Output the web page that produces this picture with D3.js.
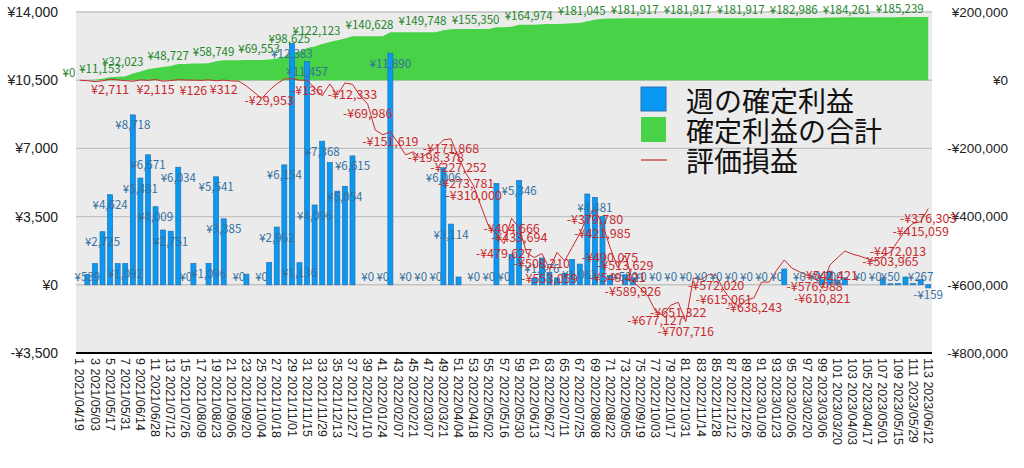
<!DOCTYPE html>
<html><head><meta charset="utf-8">
<script src="https://cdn.jsdelivr.net/npm/d3@7"></script>
<style>
html,body{margin:0;padding:0;background:#fff;}
svg{display:block;font-family:"Noto Sans CJK JP","Noto Sans",sans-serif;}
</style></head><body>
<svg id="chart" width="1024" height="468"></svg>
<script>
const dates = ["2021/04/19","2021/04/26","2021/05/03","2021/05/10","2021/05/17","2021/05/24","2021/05/31","2021/06/07","2021/06/14","2021/06/21","2021/06/28","2021/07/05","2021/07/12","2021/07/19","2021/07/26","2021/08/02","2021/08/09","2021/08/16","2021/08/23","2021/08/30","2021/09/06","2021/09/13","2021/09/20","2021/09/27","2021/10/04","2021/10/11","2021/10/18","2021/10/25","2021/11/01","2021/11/08","2021/11/15","2021/11/22","2021/11/29","2021/12/06","2021/12/13","2021/12/20","2021/12/27",
"2022/01/03","2022/01/10","2022/01/17","2022/01/24","2022/01/31","2022/02/07","2022/02/14","2022/02/21","2022/02/28","2022/03/07","2022/03/14","2022/03/21","2022/03/28","2022/04/04","2022/04/11","2022/04/18","2022/04/25","2022/05/02","2022/05/09","2022/05/16","2022/05/23","2022/05/30","2022/06/06","2022/06/13","2022/06/20","2022/06/27","2022/07/04","2022/07/11","2022/07/18","2022/07/25","2022/08/01","2022/08/08","2022/08/15","2022/08/22","2022/08/29","2022/09/05","2022/09/12","2022/09/19","2022/09/26","2022/10/03","2022/10/10","2022/10/17","2022/10/24","2022/10/31","2022/11/07","2022/11/14","2022/11/21","2022/11/28","2022/12/05","2022/12/12","2022/12/19","2022/12/26",
"2023/01/02","2023/01/09","2023/01/16","2023/01/23","2023/01/30","2023/02/06","2023/02/13","2023/02/20","2023/02/27","2023/03/06","2023/03/13","2023/03/20","2023/03/27","2023/04/03","2023/04/10","2023/04/17","2023/04/24","2023/05/01","2023/05/08","2023/05/15","2023/05/22","2023/05/29","2023/06/05","2023/06/12"];

// 週の確定利益 (weekly realised profit, left axis)
const weeklyProfit = [0,539,1087,2725,4624,1086,1092,8718,5481,6671,
4009,2812,2751,6034,0,1098,0,1096,5541,3385,
0,0,545,0,0,1143,2962,6154,12383,1136,
11457,4096,7368,6270,4806,5054,6615,0,0,0,
0,11890,0,0,0,0,0,0,6006,3114,
400,0,0,0,0,5202,0,1560,5346,0,
350,1376,640,352,590,1306,1062,4660,4481,3496,
476,0,520,352,0,0,0,0,0,0,
0,0,0,0,0,0,0,0,0,0,
0,0,0,811,0,0,0,0,258,700,
220,355,0,0,0,0,300,50,60,400,
60,267,-159];

// 評価損益 (unrealised P/L, right axis)
const evalPL = [0,-1500,-4000,-2000,2711,1000,-1500,-3000,1000,-500,
2115,-3000,-1000,1500,500,126,-500,1000,-1500,312,
-2000,-3000,-17000,-35000,-54000,-29953,-11000,3500,4400,0,
-136,-23000,-46000,-11000,-43000,-8000,-12333,-46000,-69986,-146000,
-160000,-151619,-184000,-219000,-210000,-228000,-213000,-198378,-175000,-171868,
-227252,-273781,-310000,-372000,-430000,-450000,-479627,-404666,-433694,-507000,
-520000,-508210,-553059,-505000,-530000,-490000,-450000,-400000,-379780,-421985,
-490075,-549421,-513629,-589926,-610000,-633000,-677127,-690000,-660000,-651322,
-707716,-580000,-585000,-570000,-572020,-615061,-645000,-665000,-645000,-638243,
-592000,-592000,-557000,-527000,-551000,-562000,-571000,-576988,-610821,-542421,
-521000,-501000,-510000,-516000,-524000,-530000,-516000,-503965,-472013,-440000,
-420000,-415059,-376303];

const leftTicks = [-3500,0,3500,7000,10500,14000];
const rightTicks = [-800000,-600000,-400000,-200000,0,200000];
const legendLabels = ["週の確定利益","確定利益の合計","評価損益"];

// which data labels are visible in the original
const barLabelWeeks = [2,4,5,7,8,9,10,11,13,14,15,18,19,20,22,25,27,28,29,30,31,32,33,36,37,39,41,42,44,46,48,49,50,53,55,57,59,62,67,69,73,75,77,79,81,83,85,87,89,91,93,96,98,100,104,106,108,112,113];
const totalLabelWeeks = [1,7,10,16,22,28,32,36,43,50,57,64,71,78,85,92,99,106,113];
const evalLabelWeeks = [5,11,16,20,26,31,37,39,42,48,50,51,52,53,57,58,59,62,63,69,70,71,72,73,74,77,80,81,85,86,90,98,99,100,108,109,112,113];

// 確定利益の合計 = running total of weekly realised profit
const totalProfit = Array.from(d3.cumsum(weeklyProfit));

const weeks = d3.range(1, weeklyProfit.length + 1);
const L = 76, R = 932, T = 12, B = 353;
const svg = d3.select("#chart");
const x = d3.scaleBand().domain(weeks).range([L, R]).paddingInner(0.34).paddingOuter(0.17);
const cx = w => x(w) + x.bandwidth() / 2;
const yL = d3.scaleLinear().domain([-3500, 14000]).range([B, T]);
const yR = d3.scaleLinear().domain([-800000, 200000]).range([B, T]);
const yen = v => (v < 0 ? "-" : "") + "¥" + d3.format(",")(Math.abs(v));

svg.append("rect").attr("x", L).attr("y", T).attr("width", R - L).attr("height", B - T).attr("fill", "#ebebeb");

svg.append("g").selectAll("line").data(leftTicks.filter(t => t > -3500)).join("line")
  .attr("x1", L).attr("x2", R).attr("y1", d => yL(d)).attr("y2", d => yL(d))
  .attr("stroke", "#c3c3c3").attr("stroke-width", 1.4);

// cumulative area
svg.append("path").datum(weeks)
  .attr("d", d3.area().x(w => cx(w)).y0(yR(0)).y1(w => yR(totalProfit[w - 1])))
  .attr("fill", "#47d247");

// bars
svg.append("g").selectAll("rect").data(weeks.filter(w => weeklyProfit[w - 1] !== 0)).join("rect")
  .attr("x", w => x(w)).attr("width", x.bandwidth())
  .attr("y", w => yL(Math.max(0, weeklyProfit[w - 1])))
  .attr("height", w => Math.abs(yL(weeklyProfit[w - 1]) - yL(0)))
  .attr("fill", "#0a99f2").attr("stroke", "#2470b4").attr("stroke-width", 0.7);

// evaluation line
svg.append("path").datum(weeks)
  .attr("d", d3.line().x(w => cx(w)).y(w => yR(evalPL[w - 1])))
  .attr("fill", "none").attr("stroke", "#c92a2e").attr("stroke-width", 1);

// bottom axis line
svg.append("line").attr("x1", L).attr("x2", R).attr("y1", B).attr("y2", B).attr("stroke", "#000").attr("stroke-width", 2);

// left axis
const gl = svg.append("g").attr("transform", `translate(${L},0)`)
  .call(d3.axisLeft(yL).tickValues(leftTicks).tickFormat(yen).tickSize(0).tickPadding(18));
gl.select(".domain").remove();
gl.selectAll("text").attr("font-size", 14).attr("fill", "#222").style("font-family", "inherit");

// right axis
const gr = svg.append("g").attr("transform", `translate(${R},0)`)
  .call(d3.axisRight(yR).tickValues(rightTicks).tickFormat(yen).tickSize(0));
gr.select(".domain").remove();
gr.selectAll("text").attr("x", 76).attr("text-anchor", "end").attr("font-size", 13.5).attr("fill", "#222").style("font-family", "inherit");

// bottom axis labels
const gb = svg.append("g").attr("transform", `translate(0,${B})`)
  .call(d3.axisBottom(x).tickValues(weeks.filter(w => w % 2 === 1)).tickFormat(w => w + " " + dates[w - 1]).tickSize(0));
gb.select(".domain").remove();
gb.selectAll("text").attr("transform", "rotate(90)").attr("x", 5).attr("y", 0).attr("dy", "0.35em")
  .attr("text-anchor", "start").attr("font-size", 12.5).attr("fill", "#222").style("font-family", "inherit");

// bar labels
svg.append("g").selectAll("text").data(barLabelWeeks).join("text")
  .attr("x", w => cx(w))
  .attr("y", w => { const v = weeklyProfit[w - 1]; return v < 0 ? yL(0) + 10 : Math.min(yL(v) + 10.5, yL(0) - 8.3); })
  .attr("dy", "0.35em").attr("text-anchor", "middle").attr("font-size", 11.5).attr("fill", "#35709f")
  .text(w => yen(weeklyProfit[w - 1]));

// total labels
svg.append("g").selectAll("text").data(totalLabelWeeks).join("text")
  .attr("x", w => cx(w) - 4.5).attr("y", w => yR(totalProfit[w - 1]) - 7.7)
  .attr("dy", "0.35em").attr("text-anchor", "end").attr("font-size", 11.5).attr("fill", "#23872a")
  .text(w => yen(totalProfit[w - 1]));

// evaluation labels
svg.append("g").selectAll("text").data(evalLabelWeeks).join("text")
  .attr("x", w => cx(w)).attr("y", w => yR(evalPL[w - 1]) + 10)
  .attr("dy", "0.35em").attr("text-anchor", "middle").attr("font-size", 12.5).attr("fill", "#c92a2e")
  .text(w => yen(evalPL[w - 1]));

// legend
const lg = svg.append("g").attr("transform", "translate(641,87)");
lg.append("rect").attr("x", 0).attr("y", 0).attr("width", 25).attr("height", 24).attr("fill", "#0a99f2").attr("stroke", "#2470b4").attr("stroke-width", 1);
lg.append("rect").attr("x", 0).attr("y", 30).attr("width", 25).attr("height", 25).attr("fill", "#47d247");
lg.append("line").attr("x1", 0).attr("x2", 26).attr("y1", 73).attr("y2", 73).attr("stroke", "#c92a2e").attr("stroke-width", 1.2);
lg.selectAll("text").data(legendLabels).join("text")
  .attr("x", 45).attr("y", (d, i) => 14 + i * 30).attr("dy", "0.38em")
  .attr("font-size", 28).attr("fill", "#111").text(d => d);
</script>
</body></html>
